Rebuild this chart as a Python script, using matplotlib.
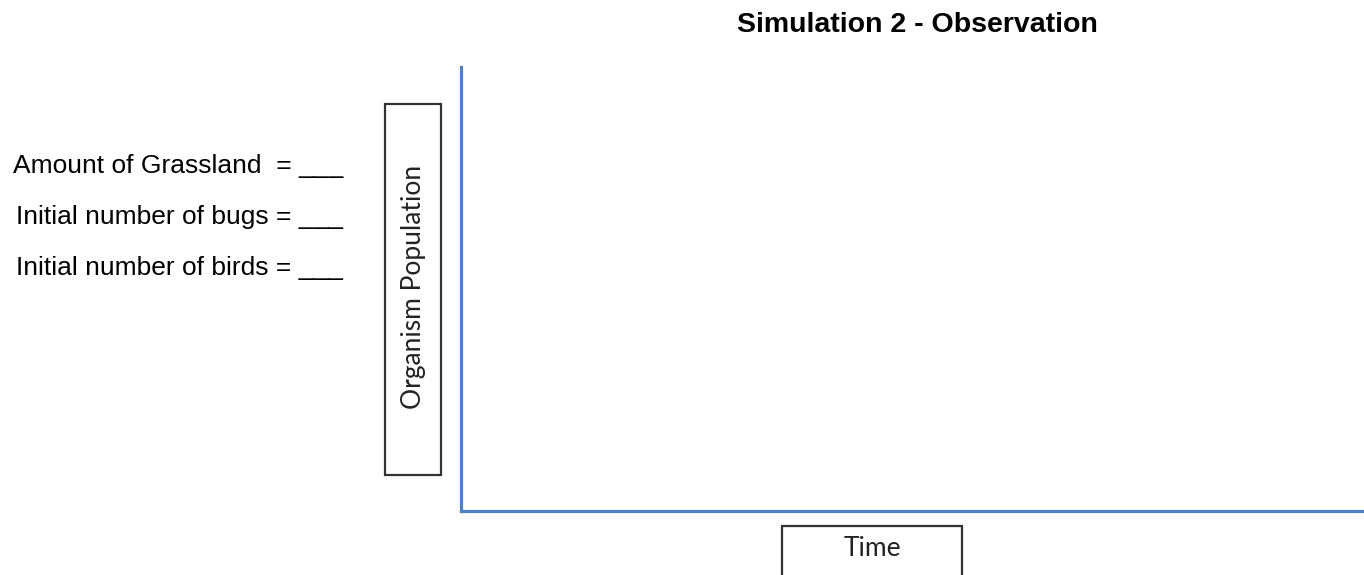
import matplotlib.pyplot as plt
from matplotlib.patches import Rectangle

# 图表文字
title = "Simulation 2 - Observation"
x_label = "Time"
y_label = "Organism Population"
inputs = ["Amount of Grassland  = ___",
          "Initial number of bugs = ___",
          "Initial number of birds = ___"]

W, H = 1364, 575
axis_blue = "#4F81C2"
box_grey = "#333333"

# 1.创建画布
fig = plt.figure(figsize=(W / 100, H / 100), dpi=100)

# 2.空白坐标轴(只留左边和下边)
ax = fig.add_axes([461 / W, 1 - 511 / H, (W - 461) / W, (511 - 67) / H])
ax.set_xlim(0, 1)
ax.set_ylim(0, 1)
for side in ["top", "right"]:
    ax.spines[side].set_visible(False)
for side in ["left", "bottom"]:
    ax.spines[side].set_color(axis_blue)
    ax.spines[side].set_linewidth(2.3)
ax.set_xticks([])
ax.set_yticks([])

# 2.1 标题
fig.text(917 / W, 1 - 25 / H, title, ha="center", va="center",
         fontsize=20.5, fontweight="bold", family="Liberation Sans")

# 2.2 左边的填写项
baselines = [173, 224, 275]
for s, b in zip(inputs, baselines):
    fig.text(343 / W, 1 - b / H, s, ha="right", va="baseline",
             fontsize=19, family="Liberation Sans")

# 2.3 y轴标签框
fig.patches.append(Rectangle((385 / W, 1 - 475 / H), 56 / W, 371 / H,
                             transform=fig.transFigure, fill=False,
                             edgecolor=box_grey, linewidth=1.6))
fig.text(413 / W, 1 - 287 / H, y_label, rotation=90, ha="center", va="center",
         fontsize=19, family="Lato", color="#222222")

# 2.4 x轴标签框(下边被裁掉)
fig.patches.append(Rectangle((782 / W, -0.02), 180 / W, (575 - 526) / H + 0.02,
                             transform=fig.transFigure, fill=False,
                             edgecolor=box_grey, linewidth=1.6))
fig.text(872 / W, 1 - 549 / H, x_label, ha="center", va="center",
         fontsize=19, family="Lato", color="#222222")

# 3.保存
fig.savefig("out.png", dpi=100)
